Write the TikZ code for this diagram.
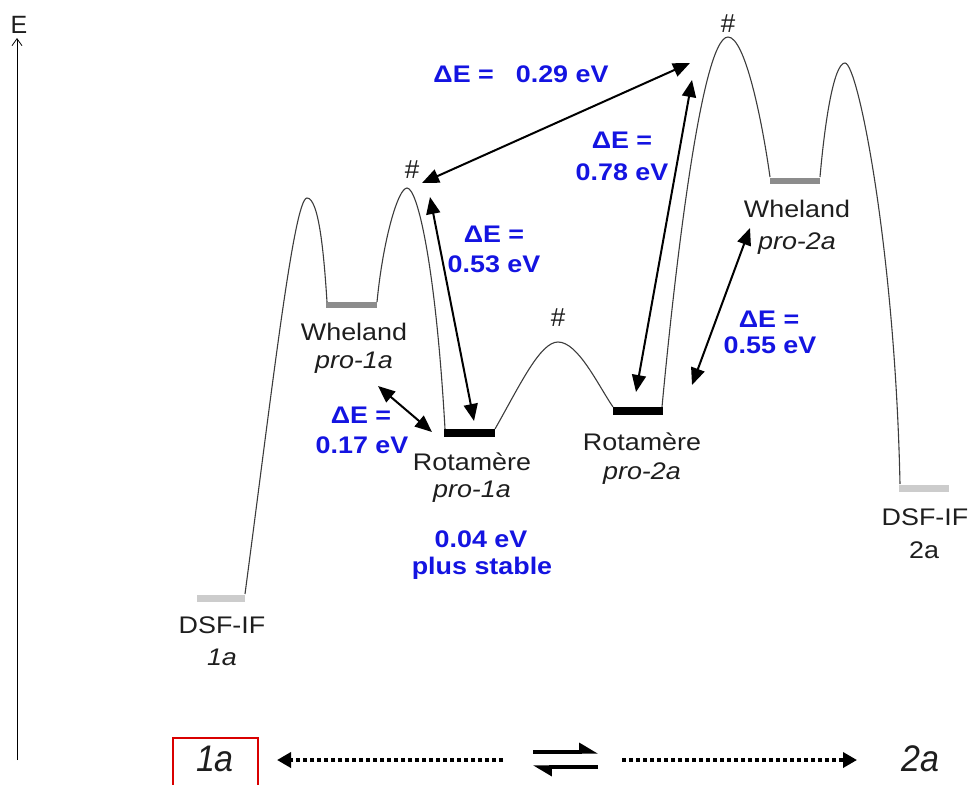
\documentclass[tikz,border=0pt]{standalone}
\usepackage{fontspec}
\setmainfont{Liberation Sans}
\newfontfamily\labfont[FakeStretch=1.12]{Liberation Sans}
\newfontfamily\botfont[FakeStretch=0.92]{Liberation Sans}
\usetikzlibrary{arrows.meta}
\definecolor{eblue}{RGB}{20,20,225}
\definecolor{curvecol}{RGB}{60,60,60}
\definecolor{txtcol}{RGB}{30,30,30}
\begin{document}
\begin{tikzpicture}[x=1pt,y=-1pt,
  lbl/.style={font=\labfont\fontsize{24}{26}\selectfont, text=txtcol, inner sep=0pt, anchor=base},
  ilbl/.style={lbl, font=\labfont\fontsize{24}{26}\selectfont\itshape},
  blbl/.style={font=\labfont\fontsize{24}{26}\selectfont\bfseries, text=eblue, inner sep=0pt, anchor=base},
  hash/.style={font=\fontsize{26}{28}\selectfont, text=txtcol, inner sep=0pt, anchor=base},
  botlbl/.style={font=\botfont\fontsize{37}{40}\selectfont\itshape, text=txtcol, inner sep=0pt, anchor=base},
  curve/.style={draw=curvecol, line width=1.1pt},
  lightbar/.style={draw=black!20, line width=7pt},
  graybar/.style={draw=black!45, line width=6pt},
  blackbar/.style={draw=black, line width=8pt},
  dearrow/.style={draw=black, line width=2pt, {Triangle[length=17pt,width=14pt]}-{Triangle[length=17pt,width=14pt]}},
  dotarrow/.style={draw=black, line width=4pt, dash pattern=on 4pt off 3pt, -{Triangle[length=14pt,width=15pt]}},
  harpoon/.style={draw=black, line width=3.2pt, -{Triangle[left,length=16pt,width=18pt]}}
]
\useasboundingbox (0,0) rectangle (970,785);

% axis
\coordinate (axb) at (17,760);
\coordinate (axt) at (17,38);
\draw[line width=0.8pt, -{Straight Barb[length=7pt,width=10pt]}] (axb) -- (axt);
\node[font=\fontsize{25}{27}\selectfont, text=txtcol, inner sep=0pt, anchor=base] (E) at (19,33) {E};

% levels
\draw[lightbar] (197,598) -- (245,598);
\draw[graybar] (326,305) -- (377,305);
\draw[blackbar] (444,433) -- (495,433);
\draw[blackbar] (613,411) -- (663,411);
\draw[graybar] (770,181) -- (820,181);
\draw[lightbar] (899,488) -- (949,488);

% energy curve
\draw[curve] (245,594) .. controls (272,390) and (294,198) .. (307,198)
  .. controls (319,198) and (324,255) .. (327,302);
\draw[curve] (377,302) .. controls (383,240) and (398,188) .. (407,188)
  .. controls (418,188) and (436,270) .. (445,429);
\draw[curve] (495,429) .. controls (520,385) and (540,342) .. (558,342)
  .. controls (578,342) and (598,385) .. (613,407);
\draw[curve] (662,407) .. controls (672,300) and (700,37) .. (728,37)
  .. controls (745,37) and (762,120) .. (770,177);
\draw[curve] (820,177) .. controls (825,120) and (834,63) .. (845,63)
  .. controls (858,63) and (895,250) .. (900,484);

% hash marks
\node[hash] (h1) at (412,178) {\#};
\node[hash] (h2) at (558,326) {\#};
\node[hash] (h3) at (728,32) {\#};

% state labels
\node[lbl]  (w1) at (354,340) {Wheland};
\node[ilbl] (w1b) at (354,368) {pro-1a};
\node[lbl]  (r1) at (472,470) {Rotamère};
\node[ilbl] (r1b) at (472,497) {pro-1a};
\node[lbl]  (r2) at (642,450) {Rotamère};
\node[ilbl] (r2b) at (642,479) {pro-2a};
\node[lbl]  (w2) at (797,217) {Wheland};
\node[ilbl] (w2b) at (797,249) {pro-2a};
\node[lbl]  (d1) at (222,633) {DSF-IF};
\node[ilbl] (d1b) at (222,665) {1a};
\node[lbl]  (d2) at (925,525) {DSF-IF};
\node[lbl]  (d2b) at (924,558) {2a};

% energy labels
\node[blbl] (e29) at (521,82) {ΔE =\hspace{22pt}0.29 eV};
\node[blbl] (e78a) at (622,148) {ΔE =};
\node[blbl] (e78b) at (622,180) {0.78 eV};
\node[blbl] (e53a) at (494,242) {ΔE =};
\node[blbl] (e53b) at (494,272) {0.53 eV};
\node[blbl] (e17a) at (361,423) {ΔE =};
\node[blbl] (e17b) at (362,453) {0.17 eV};
\node[blbl] (e55a) at (769,327) {ΔE =};
\node[blbl] (e55b) at (770,353) {0.55 eV};
\node[blbl] (st1) at (481,547) {0.04 eV};
\node[blbl] (st2) at (482,574) {plus stable};

% energy difference arrows
\coordinate (a29s) at (422,183); \coordinate (a29e) at (690,63);
\coordinate (a78s) at (636,392); \coordinate (a78e) at (692,80);
\coordinate (a53s) at (430,197); \coordinate (a53e) at (474,421);
\coordinate (a17s) at (378,386); \coordinate (a17e) at (432,432);
\coordinate (a55s) at (692,385); \coordinate (a55e) at (750,228);
\draw[dearrow] (a29s) -- (a29e);
\draw[dearrow] (a78s) -- (a78e);
\draw[dearrow] (a53s) -- (a53e);
\draw[dearrow] (a17s) -- (a17e);
\draw[dearrow] (a55s) -- (a55e);

% bottom row
\node[botlbl] (b1) at (215,771) {1a};
\node[botlbl] (b2) at (920,771) {2a};
\draw[red!85!black, line width=1.3pt] (173,790) -- (173,738) -- (258,738) -- (258,790);
\coordinate (dl1) at (503,760); \coordinate (dl2) at (277,760);
\coordinate (dr1) at (622,760); \coordinate (dr2) at (857,760);
\draw[dotarrow] (dl1) -- (dl2);
\draw[dotarrow] (dr1) -- (dr2);
\coordinate (hp1) at (533,752); \coordinate (hp2) at (598,752);
\coordinate (hp3) at (598,767); \coordinate (hp4) at (533,767);
\draw[harpoon] (hp1) -- (hp2);
\draw[harpoon] (hp3) -- (hp4);
\end{tikzpicture}
\end{document}
